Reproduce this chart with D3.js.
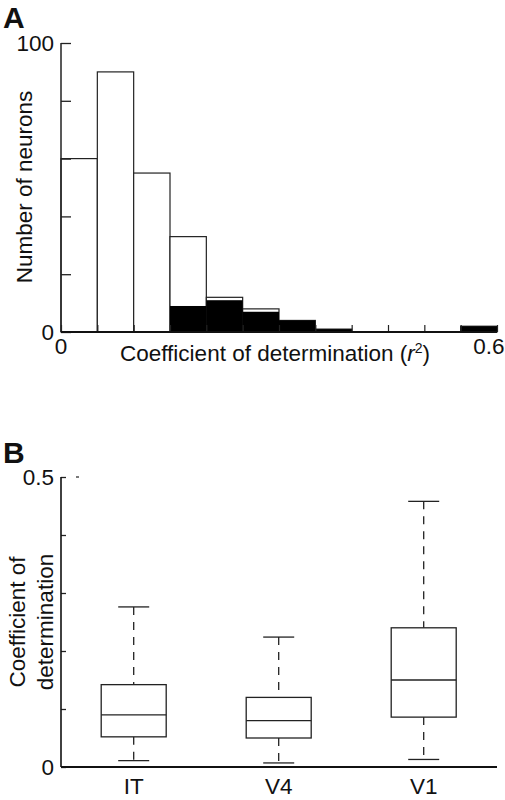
<!DOCTYPE html>
<html>
<head>
<meta charset="utf-8">
<script src="https://cdn.jsdelivr.net/npm/d3@7"></script>
<style>
  body { margin: 0; background: #fff; }
  text { font-family: "Liberation Sans", Arial, sans-serif; fill: #111; }
</style>
</head>
<body>
<div id="chart"></div>
<script>
// panel A: histogram of r^2 (bins of 0.05)
const binStarts = [0, 0.05, 0.1, 0.15, 0.2, 0.25, 0.3, 0.35, 0.4, 0.45, 0.5, 0.55]
const allCounts = [60, 90, 55, 33, 12, 8, 4, 1, 0, 0, 0, 2]
const sigCounts = [0, 0, 0, 9, 11, 7, 4, 1, 0, 0, 0, 2]
const countTicks = [0, 20, 40, 60, 80, 100]

// panel B: box plots per area
const areas = ['IT', 'V4', 'V1']
const whiskerLow = [0.011, 0.007, 0.013]
const q1 = [0.052, 0.050, 0.086]
const median = [0.090, 0.080, 0.150]
const q3 = [0.142, 0.120, 0.240]
const whiskerHigh = [0.276, 0.224, 0.458]
const r2Ticks = [0, 0.1, 0.2, 0.3, 0.4, 0.5]

const width = 505
const height = 800
const fontSize = 22.5

let svg = d3.select('#chart')
	.append('svg')
	.attr('width', width)
	.attr('height', height)

// ---------- A ----------
let xA = d3.scaleLinear().domain([0, 0.6]).range([61, 497])
let yA = d3.scaleLinear().domain([0, 100]).range([332, 43])
const binW = 0.05

let gA = svg.append('g')

gA.append('text')
	.attr('x', 3).attr('y', 28)
	.style('font-size', '30px').style('font-weight', 'bold')
	.text('A')

gA.selectAll('.bar-all')
	.data(allCounts.map((c, i) => ({ x: binStarts[i], c })))
	.enter().append('rect')
		.attr('class', 'bar-all')
		.attr('x', d => xA(d.x))
		.attr('width', d => xA(d.x + binW) - xA(d.x))
		.attr('y', d => yA(d.c))
		.attr('height', d => yA(0) - yA(d.c))
		.attr('fill', '#fff')
		.attr('stroke', '#222')
		.attr('stroke-width', 1.2)

gA.selectAll('.bar-sig')
	.data(sigCounts.map((c, i) => ({ x: binStarts[i], c })).filter(d => d.c > 0))
	.enter().append('rect')
		.attr('class', 'bar-sig')
		.attr('x', d => xA(d.x))
		.attr('width', d => xA(d.x + binW) - xA(d.x))
		.attr('y', d => yA(d.c))
		.attr('height', d => yA(0) - yA(d.c))
		.attr('fill', '#000')

// y axis, ticks pointing inward
let yAxisA = d3.axisRight(yA).tickValues(countTicks).tickSize(10).tickFormat('')
let yAxG = gA.append('g').attr('transform', `translate(${xA(0)},0)`).call(yAxisA)
yAxG.select('.domain').remove()
yAxG.selectAll('line').attr('stroke', '#222').attr('stroke-width', 1.3)
gA.append('line')
	.attr('x1', xA(0)).attr('x2', xA(0))
	.attr('y1', yA(100)).attr('y2', yA(0))
	.attr('stroke', '#222').attr('stroke-width', 1.5)

gA.selectAll('.ylab')
	.data([0, 100])
	.enter().append('text')
		.attr('x', xA(0) - 7)
		.attr('y', d => yA(d))
		.attr('dy', '0.36em')
		.attr('text-anchor', 'end')
		.style('font-size', fontSize + 'px')
		.text(d => d)

// x axis with small inward ticks at bin edges
let xAxisA = d3.axisTop(xA).tickValues(binStarts.concat([0.6])).tickSize(7).tickFormat('')
let xAxG = gA.append('g').attr('transform', `translate(0,${yA(0)})`).call(xAxisA)
xAxG.select('.domain').remove()
xAxG.selectAll('line').attr('stroke', '#222').attr('stroke-width', 1.2)
gA.append('line')
	.attr('x1', xA(0)).attr('x2', xA(0.6))
	.attr('y1', yA(0)).attr('y2', yA(0))
	.attr('stroke', '#111').attr('stroke-width', 2)

gA.selectAll('.xlab')
	.data([0, 0.6])
	.enter().append('text')
		.attr('x', d => xA(d) + (d > 0 ? -8 : 0))
		.attr('y', 354)
		.attr('text-anchor', 'middle')
		.style('font-size', fontSize + 'px')
		.text(d => d)

let xTitle = gA.append('text')
	.attr('x', 120).attr('y', 361)
	.style('font-size', fontSize + 'px')
xTitle.append('tspan').text('Coefficient of determination (')
xTitle.append('tspan').style('font-style', 'italic').text('r')
xTitle.append('tspan').attr('dy', -8).style('font-size', '14px').text('2')
xTitle.append('tspan').attr('dy', 8).text(')')

gA.append('text')
	.attr('transform', 'translate(32,187) rotate(-90)')
	.attr('text-anchor', 'middle')
	.style('font-size', fontSize + 'px')
	.text('Number of neurons')

// ---------- B ----------
let xB = d3.scalePoint().domain(areas).range([133.7, 423.7])
let yB = d3.scaleLinear().domain([0, 0.5]).range([767, 477])
const boxW = 65
const capW = 31

let gB = svg.append('g')

gB.append('text')
	.attr('x', 3).attr('y', 463)
	.style('font-size', '30px').style('font-weight', 'bold')
	.text('B')

let boxes = areas.map((a, i) => ({
	a, lo: whiskerLow[i], q1: q1[i], med: median[i], q3: q3[i], hi: whiskerHigh[i]
}))

let box = gB.selectAll('.box')
	.data(boxes)
	.enter().append('g')
		.attr('class', 'box')
		.attr('transform', d => `translate(${xB(d.a)},0)`)

// dashed whiskers
box.append('line')
	.attr('y1', d => yB(d.hi)).attr('y2', d => yB(d.q3))
	.attr('stroke', '#222').attr('stroke-width', 1.3)
	.attr('stroke-dasharray', '8,7')
box.append('line')
	.attr('y1', d => yB(d.q1)).attr('y2', d => yB(d.lo))
	.attr('stroke', '#222').attr('stroke-width', 1.3)
	.attr('stroke-dasharray', '8,7')

// caps
box.selectAll('.cap')
	.data(d => [d.lo, d.hi])
	.enter().append('line')
		.attr('class', 'cap')
		.attr('x1', -capW / 2).attr('x2', capW / 2)
		.attr('y1', v => yB(v)).attr('y2', v => yB(v))
		.attr('stroke', '#222').attr('stroke-width', 1.3)

box.append('rect')
	.attr('x', -boxW / 2).attr('width', boxW)
	.attr('y', d => yB(d.q3))
	.attr('height', d => yB(d.q1) - yB(d.q3))
	.attr('fill', '#fff')
	.attr('stroke', '#222').attr('stroke-width', 1.3)

box.append('line')
	.attr('x1', -boxW / 2).attr('x2', boxW / 2)
	.attr('y1', d => yB(d.med)).attr('y2', d => yB(d.med))
	.attr('stroke', '#222').attr('stroke-width', 1.3)

// axes
let yAxisB = d3.axisRight(yB).tickValues(r2Ticks).tickSize(5).tickFormat('')
let yBxG = gB.append('g').attr('transform', 'translate(61,0)').call(yAxisB)
yBxG.select('.domain').remove()
yBxG.selectAll('line').attr('stroke', '#222').attr('stroke-width', 1.3)
gB.append('line')
	.attr('x1', 61).attr('x2', 61)
	.attr('y1', yB(0.5)).attr('y2', yB(0))
	.attr('stroke', '#111').attr('stroke-width', 1.6)
gB.append('line')
	.attr('x1', 61).attr('x2', 497)
	.attr('y1', yB(0)).attr('y2', yB(0))
	.attr('stroke', '#111').attr('stroke-width', 2.2)
// stray dash next to the 0.5 tick
gB.append('line')
	.attr('x1', 76).attr('x2', 79)
	.attr('y1', yB(0.5)).attr('y2', yB(0.5))
	.attr('stroke', '#222').attr('stroke-width', 1.2)

gB.selectAll('.ylab')
	.data([0, 0.5])
	.enter().append('text')
		.attr('x', 54)
		.attr('y', d => yB(d))
		.attr('dy', '0.36em')
		.attr('text-anchor', 'end')
		.style('font-size', fontSize + 'px')
		.text(d => d)

gB.selectAll('.catlab')
	.data(areas)
	.enter().append('text')
		.attr('x', d => xB(d))
		.attr('y', 794)
		.attr('text-anchor', 'middle')
		.style('font-size', fontSize + 'px')
		.text(d => d)

gB.append('text')
	.attr('transform', 'translate(25,622) rotate(-90)')
	.attr('text-anchor', 'middle')
	.style('font-size', fontSize + 'px')
	.text('Coefficient of')
gB.append('text')
	.attr('transform', 'translate(53,622) rotate(-90)')
	.attr('text-anchor', 'middle')
	.style('font-size', fontSize + 'px')
	.text('determination')
</script>
</body>
</html>
